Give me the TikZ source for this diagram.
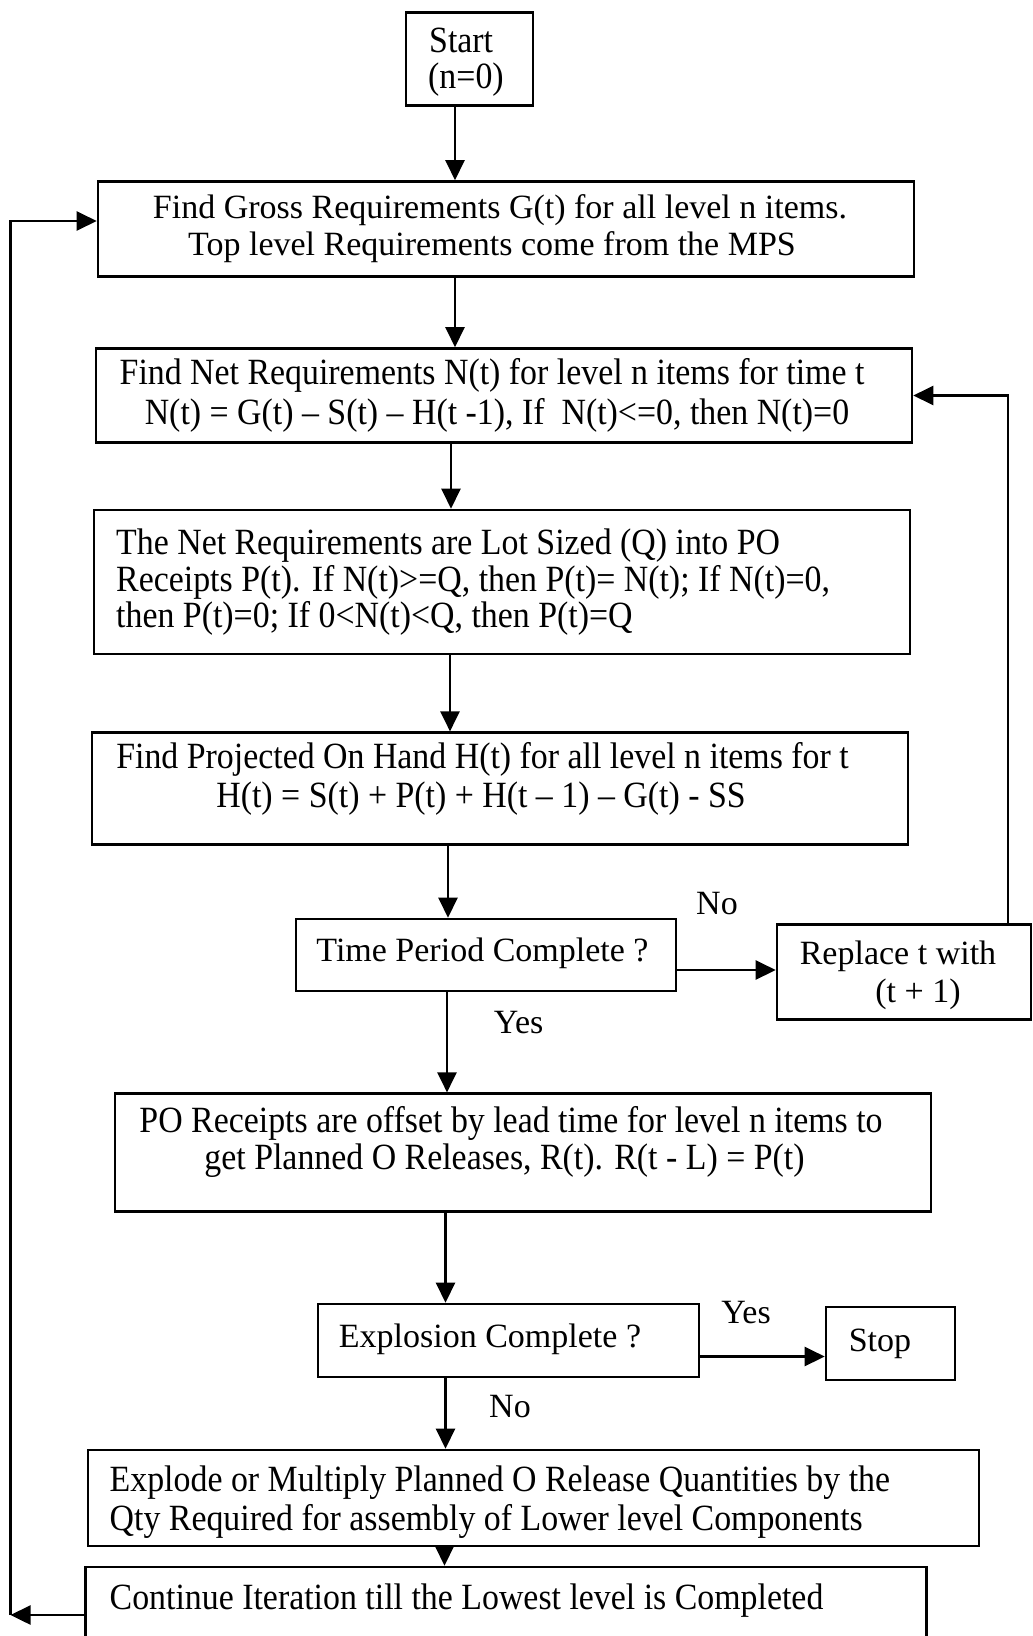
\documentclass[tikz,border=0pt]{standalone}
\usepackage{fontspec}
\setmainfont{Liberation Serif}
\newfontfamily\narrowserif[FakeStretch=0.915,Ligatures=TeX]{Liberation Serif}
\usetikzlibrary{arrows.meta}

\tikzset{
  box/.style={draw, line width=2.6pt, inner sep=0pt},
  arr/.style={line width=2.4pt, -{Triangle[length=20pt,width=19pt]}},
  plain/.style={inner sep=0pt, font=\fontsize{34}{38}\selectfont},
  tall/.style={inner sep=0pt, font=\narrowserif\fontsize{37}{38}\selectfont},
}

\begin{document}
\begin{tikzpicture}[x=1pt, y=-1pt]
\useasboundingbox (0,0) rectangle (1033,1636);
\clip (0,0) rectangle (1033,1636);

% ---- boxes ----
\node[box, minimum width=127pt, minimum height=93pt]  (start) at (469.5,59)   {};
\node[box, minimum width=816pt, minimum height=95pt]  (g)     at (506,229)    {};
\node[box, minimum width=816pt, minimum height=94pt]  (n)     at (504,395.5)  {};
\node[box, minimum width=816pt, minimum height=144pt] (p)     at (502,582)    {};
\node[box, minimum width=816pt, minimum height=112pt] (h)     at (500,788.7)  {};
\node[box, minimum width=380pt, minimum height=72pt]  (tp)    at (486,955)    {};
\node[box, minimum width=254pt, minimum height=95pt]  (rp)    at (904,972)    {};
\node[box, minimum width=816pt, minimum height=118pt] (po)    at (523,1152.7) {};
\node[box, minimum width=381pt, minimum height=73pt]  (ex)    at (508.5,1340.5) {};
\node[box, minimum width=129pt, minimum height=73pt]  (stop)  at (890.5,1343.5) {};
\node[box, minimum width=891pt, minimum height=96pt]  (expl)  at (533.5,1498) {};
\node[box, minimum width=841pt, minimum height=113pt] (cont)  at (506,1623.5) {};

% ---- texts ----
\node[tall, anchor=base west] (start1) at (429,52) {Start};
\node[tall, anchor=base west] (start2) at (428,88) {(n=0)};

\node[plain, anchor=base] (g1) at (500,218) {Find Gross Requirements G(t) for all level n items.};
\node[plain, anchor=base] (g2) at (492,255) {Top level Requirements come from the MPS};

\node[tall, anchor=base] (n1) at (492,384.5) {Find Net Requirements N(t) for level n items for time t};
\node[tall, anchor=base] (n2) at (497,424) {N(t) = G(t) – S(t) – H(t -1), If\ \ N(t)<=0, then N(t)=0};

\node[tall, anchor=base west] (p1) at (116,554.6) {The Net Requirements are Lot Sized (Q) into PO};
\node[tall, anchor=base west] (p2) at (116,591) {Receipts P(t). If N(t)>=Q, then P(t)= N(t); If N(t)=0,};
\node[tall, anchor=base west] (p3) at (116,627.6) {then P(t)=0; If 0<N(t)<Q, then P(t)=Q};

\node[tall, anchor=base] (h1) at (482.5,768.5) {Find Projected On Hand H(t) for all level n items for t};
\node[tall, anchor=base] (h2) at (481,807) {H(t) = S(t) + P(t) + H(t – 1) – G(t) - SS};

\node[plain, anchor=base] (tp1) at (482.5,961.5) {Time Period Complete ?};
\node[plain, anchor=base] (rp1) at (898,964.7) {Replace t with};
\node[plain, anchor=base] (rp2) at (918,1002) {(t + 1)};

\node[tall, anchor=base] (po1) at (511,1132.7) {PO Receipts are offset by lead time for level n items to};
\node[tall, anchor=base] (po2) at (504.5,1169) {get Planned O Releases, R(t). R(t - L) = P(t)};

\node[plain, anchor=base] (ex1) at (490,1347.6) {Explosion Complete ?};
\node[plain, anchor=base] (stop1) at (880,1351) {Stop};

\node[tall, anchor=base west] (expl1) at (109.5,1491.6) {Explode or Multiply Planned O Release Quantities by the};
\node[tall, anchor=base west] (expl2) at (109.5,1530) {Qty Required for assembly of Lower level Components};

\node[tall, anchor=base west] (cont1) at (109.5,1609.5) {Continue Iteration till the Lowest level is Completed};

% ---- branch labels ----
\node[plain, anchor=base] (lno1)  at (717,914.5)   {No};
\node[plain, anchor=base] (lyes1) at (518.6,1033.5) {Yes};
\node[plain, anchor=base] (lyes2) at (746,1323.6)  {Yes};
\node[plain, anchor=base] (lno2)  at (510,1417.5)  {No};

% ---- connector columns and turning points ----
\coordinate (c1) at (455,0);
\coordinate (c2) at (451,0);
\coordinate (c3) at (450,0);
\coordinate (c4) at (448,0);
\coordinate (c5) at (447,0);
\coordinate (c6) at (445.5,0);
\coordinate (c7) at (444.5,0);
\coordinate (rx) at (1008,0);
\coordinate (ay) at (0,970);
\coordinate (sy) at (0,1356.5);
\coordinate (lb) at (10.5,1615);
\coordinate (lt) at (10.5,221);

% ---- main flow ----
\draw[arr] (start.south -| c1) -- (g.north -| c1);
\draw[arr] (g.south -| c1) -- (n.north -| c1);
\draw[arr] (n.south -| c2) -- (p.north -| c2);
\draw[arr] (p.south -| c3) -- (h.north -| c3);
\draw[arr] (h.south -| c4) -- (tp.north -| c4);
\draw[arr] (tp.south -| c5) -- (po.north -| c5);
\draw[arr] (po.south -| c6) -- (ex.north -| c6);
\draw[arr] (ex.south -| c6) -- (expl.north -| c6);
\draw[arr] (expl.south -| c7) -- (cont.north -| c7);

% ---- side branches ----
\draw[arr] (tp.east |- ay) -- (rp.west |- ay);
\draw[arr] (rp.north -| rx) |- (n.east);
\draw[arr] (ex.east |- sy) -- (stop.west |- sy);

% ---- return to the next level ----
\draw[arr] (cont.west |- lb) -- (lb);
\draw[arr] (lb) |- (g.west |- lt);
\end{tikzpicture}
\end{document}
